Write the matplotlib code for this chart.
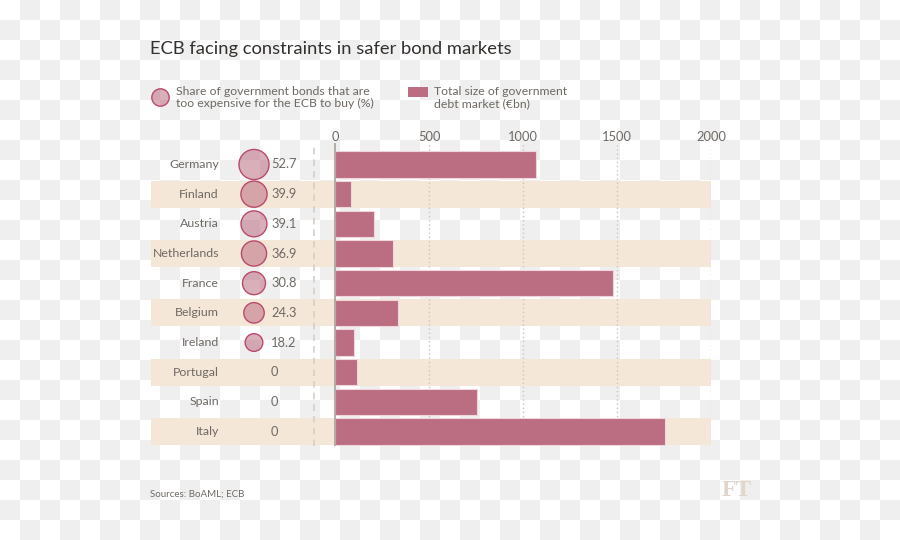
import numpy as np
import matplotlib
matplotlib.use("Agg")
import matplotlib.pyplot as plt
from matplotlib.lines import Line2D
from matplotlib.patches import Rectangle

# ---- data ----
countries = ["Germany", "Finland", "Austria", "Netherlands", "France",
             "Belgium", "Ireland", "Portugal", "Spain", "Italy"]
share_pct = [52.7, 39.9, 39.1, 36.9, 30.8, 24.3, 18.2, 0, 0, 0]
debt_bn = [1070, 85, 210, 310, 1480, 335, 100, 118, 755, 1755]
xticks = [0, 500, 1000, 1500, 2000]

title = "ECB facing constraints in safer bond markets"
leg1 = "Share of government bonds that are\ntoo expensive for the ECB to buy (%)"
leg2 = "Total size of government\ndebt market (€bn)"
source = "Sources: BoAML; ECB"

# ---- style ----
W, H = 900, 540
FONT = ["Lato", "DejaVu Sans"]
plt.rcParams["font.family"] = FONT
BAR = "#bb6d82"
BAND = "#f5e7d8"
TXT = "#6f6964"
TITLE = "#33302e"
CIRC_EDGE = "#b94a6c"

fig = plt.figure(figsize=(W / 100, H / 100), dpi=100)

# checkerboard background (as in the reference image)
bg = fig.add_axes([0, 0, 1, 1], zorder=-10)
ii, jj = np.meshgrid(np.arange(W // 20), np.arange(H // 20))
checker = ((ii + jj) % 2).astype(float)
bg.imshow(checker, cmap=matplotlib.colors.ListedColormap(["#ffffff", "#efefef"]),
          extent=(0, W, H, 0), interpolation="nearest", aspect="auto")
bg.set_xlim(0, W); bg.set_ylim(H, 0)
bg.axis("off")

# main axes: pixel geometry
x0_px, x2000_px = 335, 711
left_px, top_px, bot_px = 151, 143, 446
ppu = (x2000_px - x0_px) / 2000.0
def px2x(p):
    return (p - x0_px) / ppu

row0_px, row_step = 164.5, 29.67
ax = fig.add_axes([left_px / W, 1 - bot_px / H, (x2000_px - left_px) / W,
                   (bot_px - top_px) / H])
ax.set_xlim(px2x(left_px), 2000)
ax.set_ylim((bot_px - row0_px) / row_step, (top_px - row0_px) / row_step)
ax.patch.set_alpha(0)
for s in ax.spines.values():
    s.set_visible(False)

rows = np.arange(len(countries))
for r in rows:
    if r % 2 == 1:
        ax.axhspan(r - 0.45, r + 0.45, color=BAND, zorder=0, lw=0)

ax.vlines(xticks[1:], *ax.get_ylim(), colors="#cdc4bd", linestyles=(0, (1, 2)),
          lw=1, zorder=1)
ax.axvline(0, color="#a8a09a", lw=1.2, zorder=3)
ax.axvline(px2x(314), color="#d8cec6", lw=1.2, ls=(0, (4, 3)), zorder=1)

ax.barh(rows, debt_bn, height=0.88, color=BAR, edgecolor="#efd6dc", lw=0.8,
        zorder=2)

# circles
share = np.array(share_pct)
ax.scatter(np.full(len(rows), px2x(254)), rows, s=share * 8.9,
           facecolor=(0.733, 0.427, 0.510, 0.55), edgecolor=CIRC_EDGE,
           lw=1.0, zorder=4, clip_on=False)

for r, name, v in zip(rows, countries, share_pct):
    ax.text(px2x(219), r, name, ha="right", va="center", fontsize=8.9,
            color=TXT)
    ax.text(px2x(271), r, f"{v:g}", ha="left", va="center", fontsize=9.3,
            color=TXT)

ax.xaxis.tick_top()
ax.set_xticks(xticks)
ax.set_xticklabels([str(t) for t in xticks])
ax.tick_params(axis="x", length=0, pad=0, labelsize=9.3, labelcolor=TXT)
ax.set_yticks([])

# titles & legend
def ft(xp, yp, s, **kw):
    fig.text(xp / W, 1 - yp / H, s, **kw)

ft(150, 49, title, fontsize=13.2, color=TITLE, va="center", ha="left")
fig.add_artist(Line2D([160 / W], [1 - 97 / H], marker="o", markersize=12.5,
                      markerfacecolor=(0.733, 0.427, 0.510, 0.55),
                      markeredgecolor=CIRC_EDGE, markeredgewidth=1.0,
                      transform=fig.transFigure))
ft(176, 97.5, leg1, fontsize=8.8, color=TXT, va="center", ha="left",
   linespacing=1.15)
fig.add_artist(Rectangle((408 / W, 1 - 97 / H), 20 / W, 10 / H,
                         transform=fig.transFigure, color=BAR, lw=0))
ft(434, 97.5, leg2, fontsize=8.8, color=TXT, va="center", ha="left",
   linespacing=1.15)

ft(150, 494, source, fontsize=7, color=TXT, va="center", ha="left")
ft(737, 490, "FT", fontsize=17, color="#e2d6cc", va="center", ha="center",
   weight="bold", family=["Liberation Serif", "DejaVu Serif"])

fig.savefig("out.png", dpi=100)
